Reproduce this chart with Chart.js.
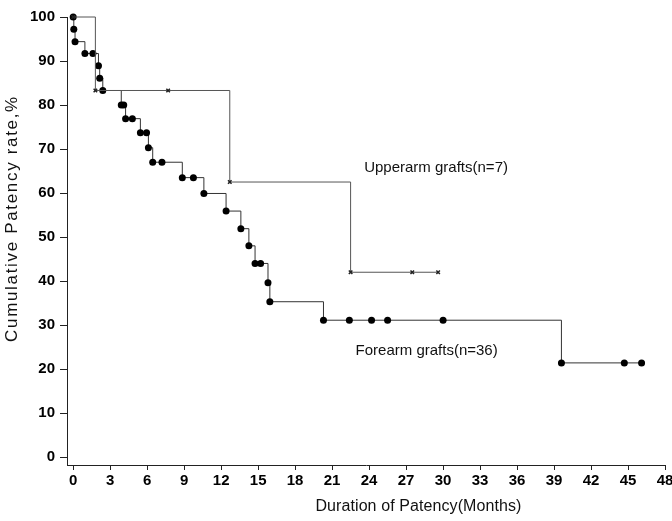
<!DOCTYPE html>
<html>
<head>
<meta charset="utf-8">
<script src="https://cdn.jsdelivr.net/npm/chart.js@4"></script>
<style>
  html, body { margin: 0; padding: 0; background: #fff; }
  #wrap { width: 672px; height: 521px; }
</style>
</head>
<body>
<div id="wrap"><canvas id="myChart"></canvas></div>
<script>
// forearm grafts (n=36) - months and cumulative patency %
var foreMonths = [0, 0.05, 0.15, 0.95, 1.6, 2.05, 2.15, 2.4, 3.9, 4.1, 4.25, 4.8, 5.45, 5.95, 6.1, 6.45, 7.2,
                  8.85, 9.75, 10.6, 12.4, 13.6, 14.25, 14.75, 15.2, 15.8, 15.95, 20.3, 22.4, 24.2, 25.5, 30.0,
                  39.6, 44.7, 46.1];
var foreRate = [100, 97.2, 94.4, 91.7, 91.7, 88.9, 86.1, 83.3, 80.0, 80.0, 76.9, 76.9, 73.7, 73.7, 70.3, 67.0, 67.0,
                63.5, 63.5, 59.9, 55.9, 51.9, 48.0, 44.0, 44.0, 39.6, 35.3, 31.1, 31.1, 31.1, 31.1, 31.1,
                21.4, 21.4, 21.4];

// upperarm grafts (n=7)
var upperMonths = [0, 1.8, 7.7, 12.7, 22.5, 27.5, 29.6];
var upperRate = [100, 83.3, 83.3, 62.5, 42.0, 42.0, 42.0];

var xTicks = [0, 3, 6, 9, 12, 15, 18, 21, 24, 27, 30, 33, 36, 39, 42, 45, 48];
var yTicks = [0, 10, 20, 30, 40, 50, 60, 70, 80, 90, 100];

// text written inside the plot: [text, month, rate]
var notes = [
    ['Upperarm grafts(n=7)', 23.6, 65.8],
    ['Forearm grafts(n=36)', 22.9, 24.1]
];

var fontFam = '"Liberation Sans", Arial, Helvetica, sans-serif';
var narrowFam = '"Liberation Sans Narrow", "Arial Narrow", "Liberation Sans", Arial, sans-serif';

function toPoints(xs, ys) {
    return xs.map(function (x, i) { return { x: x, y: ys[i] }; });
}

// draws text stretched with letter spacing so it covers a given width
function spacedText(ctx, text, x, y, width) {
    ctx.letterSpacing = '0px';
    var w = ctx.measureText(text).width;
    var gap = (width - w) / (text.length - 1);
    ctx.letterSpacing = gap.toFixed(2) + 'px';
    ctx.textAlign = 'left';
    ctx.fillText(text, x - width / 2, y);
    ctx.letterSpacing = '0px';
}

var textLabels = {
    id: 'textLabels',
    afterDraw: function (chart) {
        var ctx = chart.ctx;
        var sx = chart.scales.x, sy = chart.scales.y;
        ctx.save();
        ctx.fillStyle = '#111';
        ctx.textBaseline = 'middle';
        ctx.textAlign = 'left';
        ctx.font = '15px ' + fontFam;
        notes.forEach(function (n) {
            ctx.fillText(n[0], sx.getPixelForValue(n[1]), sy.getPixelForValue(n[2]));
        });
        // x axis title (sits right of centre in the original)
        ctx.font = '16px ' + fontFam;
        spacedText(ctx, 'Duration of Patency(Months)', sx.getPixelForValue(28), chart.height - 14, 206);
        // y axis title
        ctx.save();
        ctx.translate(12, sy.getPixelForValue(54));
        ctx.rotate(-Math.PI / 2);
        ctx.font = '17px ' + fontFam;
        spacedText(ctx, 'Cumulative Patency rate,%', 0, 0, 245);
        ctx.restore();
        ctx.restore();
    }
};

var ctx = document.getElementById('myChart').getContext('2d');
var myChart = new Chart(ctx, {
    type: 'scatter',
    data: {
        datasets: [{
            label: 'Upperarm grafts(n=7)',
            data: toPoints(upperMonths, upperRate),
            showLine: true,
            stepped: 'before',
            borderColor: '#555',
            borderWidth: 1,
            pointStyle: 'crossRot',
            pointRadius: 2.5,
            pointBorderColor: '#222',
            pointBorderWidth: 1.5,
            pointBackgroundColor: '#222',
            clip: false
        }, {
            label: 'Forearm grafts(n=36)',
            data: toPoints(foreMonths, foreRate),
            showLine: true,
            stepped: 'before',
            borderColor: '#333',
            borderWidth: 1,
            pointStyle: 'circle',
            pointRadius: 3.5,
            pointBorderWidth: 0,
            pointBackgroundColor: '#000',
            clip: false
        }]
    },
    options: {
        responsive: true,
        maintainAspectRatio: false,
        animation: false,
        layout: { padding: { top: 17, right: 0, left: 25, bottom: 29 } },
        plugins: {
            legend: { display: false },
            tooltip: { enabled: false }
        },
        scales: {
            x: {
                type: 'linear',
                min: -0.5,
                max: 48,
                afterBuildTicks: function (scale) {
                    scale.ticks = xTicks.map(function (v) { return { value: v }; });
                },
                afterFit: function (scale) {
                    scale.paddingRight = 7;
                },
                grid: { display: true, drawOnChartArea: false, color: '#222', tickLength: 5 },
                border: { display: true, color: '#222', width: 1 },
                ticks: { color: '#000', font: { family: narrowFam, size: 15, weight: 'bold' }, padding: 2, maxRotation: 0 }
            },
            y: {
                type: 'linear',
                min: -1.8,
                max: 100,
                afterBuildTicks: function (scale) {
                    scale.ticks = yTicks.map(function (v) { return { value: v }; });
                },
                grid: { display: true, drawOnChartArea: false, color: '#222', tickLength: 7 },
                border: { display: true, color: '#222', width: 1 },
                ticks: { color: '#000', font: { family: narrowFam, size: 15, weight: 'bold' }, padding: 5 }
            }
        }
    },
    plugins: [textLabels]
});
</script>
</body>
</html>
